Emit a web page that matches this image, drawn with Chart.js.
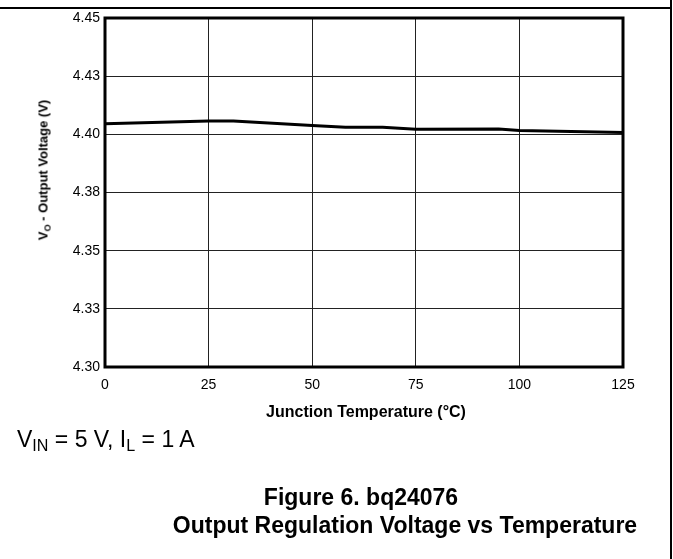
<!DOCTYPE html>
<html lang="en">
<head>
    <meta charset="UTF-8">
    <title>Output Regulation Voltage vs Temperature</title>
    <script src="https://cdn.jsdelivr.net/npm/chart.js"></script>
    <style>
        body { margin: 0; background: #fff; font-family: "Liberation Sans", Arial, sans-serif; }
        #wrap { position: relative; width: 673px; height: 559px; overflow: hidden; }
        #chart { position: absolute; left: 0; top: 0; }
        .frameTop { position: absolute; left: 0; top: 7px; width: 672px; height: 2px; background: #000; }
        .frameRight { position: absolute; left: 670px; top: 0; width: 2px; height: 559px; background: #000; }
        .txt { position: absolute; color: #000; white-space: nowrap; }
        sub { font-size: 70%; vertical-align: -0.3em; line-height: 0; }
        #ytitle { left: 43px; top: 170px; font-weight: bold; font-size: 13px; transform: translate(-50%, -50%) rotate(-90deg); }
        #xtitle { left: 366px; top: 412px; font-weight: bold; font-size: 16px; transform: translate(-50%, -50%); }
        #note { left: 17px; top: 439px; font-size: 23px; transform: translateY(-50%); }
        .cap { font-weight: bold; font-size: 23px; transform: translate(-50%, -50%); }
    </style>
</head>
<body>
    <div id="wrap">
        <canvas id="chart" width="673" height="559"></canvas>
        <div class="frameTop"></div>
        <div class="frameRight"></div>
        <div class="txt" id="ytitle">V<sub>O</sub> - Output Voltage (V)</div>
        <div class="txt" id="xtitle">Junction Temperature (°C)</div>
        <div class="txt" id="note">V<sub>IN</sub> = 5 V, I<sub>L</sub> = 1 A</div>
        <div class="txt cap" style="left:361px; top:497px">Figure 6. bq24076</div>
        <div class="txt cap" style="left:405px; top:525px">Output Regulation Voltage vs Temperature</div>
    </div>

    <script>
        // values
        const temps = [0, 25, 31, 50, 58, 67, 75, 95, 100, 125];
        const volts = [4.4046, 4.4057, 4.4057, 4.4038, 4.4030, 4.4030, 4.4022, 4.4023, 4.4016, 4.4008];

        const xTicks = [0, 25, 50, 75, 100, 125];
        const yTicks = [4.30, 4.325, 4.35, 4.375, 4.40, 4.425, 4.45];
        const yTickLabels = ['4.30', '4.33', '4.35', '4.38', '4.40', '4.43', '4.45'];

        // thick box round the plot area
        const frameBox = {
            id: 'frameBox',
            afterDraw(chart) {
                const a = chart.chartArea, c = chart.ctx;
                c.save();
                c.strokeStyle = '#000';
                c.lineWidth = 3;
                c.strokeRect(a.left, a.top, a.right - a.left, a.bottom - a.top);
                c.restore();
            }
        };

        new Chart(document.getElementById('chart'), {
            type: 'line',
            data: {
                datasets: [{
                    data: temps.map((t, i) => ({ x: t, y: volts[i] })),
                    borderColor: '#000',
                    borderWidth: 3,
                    pointRadius: 0,
                    tension: 0,
                    fill: false
                }]
            },
            options: {
                responsive: false,
                animation: false,
                layout: { padding: { top: 18, right: 50, left: 0, bottom: 0 } },
                plugins: { legend: { display: false }, tooltip: { enabled: false } },
                scales: {
                    x: {
                        type: 'linear',
                        min: 0,
                        max: 125,
                        afterBuildTicks: s => { s.ticks = xTicks.map(v => ({ value: v })); },
                        afterFit: s => { s.height = 192; },
                        grid: { color: '#222', lineWidth: 1, drawTicks: false },
                        border: { display: false },
                        ticks: { color: '#000', font: { family: 'Liberation Sans', size: 14 }, padding: 10, maxRotation: 0 }
                    },
                    y: {
                        min: 4.30,
                        max: 4.45,
                        afterBuildTicks: s => { s.ticks = yTicks.map(v => ({ value: v })); },
                        afterFit: s => { s.width = 105; },
                        grid: { color: '#222', lineWidth: 1, drawTicks: false },
                        border: { display: false },
                        ticks: {
                            color: '#000',
                            font: { family: 'Liberation Sans', size: 14 },
                            padding: 5,
                            callback: (v, i) => yTickLabels[i]
                        }
                    }
                }
            },
            plugins: [frameBox]
        });
    </script>
</body>
</html>
